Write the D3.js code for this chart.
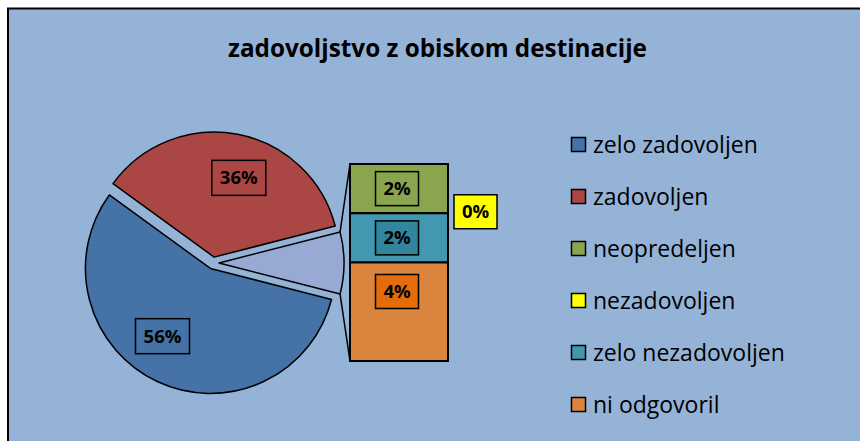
<!DOCTYPE html>
<html>
<head>
<meta charset="utf-8">
<script src="https://cdn.jsdelivr.net/npm/d3@7"></script>
<style>
  html, body { margin: 0; padding: 0; background: #ffffff; }
  svg { display: block; }
  text { font-family: "Open Sans", "Noto Sans", sans-serif; }
</style>
</head>
<body>
<svg id="chart" width="860" height="441"></svg>
<script>
// ---- data ----
const titleText = "zadovoljstvo z obiskom destinacije";
const categories = ["zelo zadovoljen", "zadovoljen", "neopredeljen", "nezadovoljen", "zelo nezadovoljen", "ni odgovoril"];
const values = [56, 36, 2, 0, 2, 4];
const pieCategories = ["zelo zadovoljen", "zadovoljen"];
const barCategories = ["neopredeljen", "nezadovoljen", "zelo nezadovoljen", "ni odgovoril"];
const colors = ["#4572A7", "#AA4643", "#89A54E", "#FFFF00", "#4198AF", "#DB843D"];
const labelFills = ["#4572A7", "#AA4643", "#89A54E", "#FFFF00", "#31859C", "#E46C0A"];
const otherColor = "#98A9D4";

const svg = d3.select("#chart");
const W = 860, H = 441;

// background panel
svg.append("rect").attr("x", 8).attr("y", 8.5).attr("width", W).attr("height", H)
  .attr("fill", "#95B3D7").attr("stroke", "#000").attr("stroke-width", 2);

// title
svg.append("text").attr("x", 437.5).attr("y", 57).attr("text-anchor", "middle")
  .attr("font-size", 24.3).attr("font-weight", "bold").attr("fill", "#000")
  .text(titleText);

// ---- pie ----
const valueOf = name => values[categories.indexOf(name)];
const otherTotal = d3.sum(barCategories, valueOf);
const pieItems = [{name: "other", value: otherTotal}]
  .concat(pieCategories.map(n => ({name: n, value: valueOf(n)})));

const total = d3.sum(pieItems, d => d.value);
const otherSpan = otherTotal / total * 2 * Math.PI;
const pie = d3.pie().sort(null).value(d => d.value)
  .startAngle(Math.PI / 2 - otherSpan / 2)
  .endAngle(Math.PI / 2 - otherSpan / 2 + 2 * Math.PI);
const arcsData = pie(pieItems);

const cx = 213, cy = 263, R = 125, explode = 6;
const arc = d3.arc().innerRadius(0).outerRadius(R);
const pct = v => Math.round(v) + "%";

const pieG = svg.append("g").attr("transform", `translate(${cx},${cy})`);

function offset(d) {
  const a = (d.startAngle + d.endAngle) / 2;
  return [explode * Math.sin(a), -explode * Math.cos(a)];
}

arcsData.forEach(d => {
  const [ox, oy] = offset(d);
  const idx = categories.indexOf(d.data.name);
  pieG.append("path")
    .attr("transform", `translate(${ox},${oy})`)
    .attr("d", arc(d))
    .attr("fill", idx >= 0 ? colors[idx] : otherColor)
    .attr("stroke", "#000").attr("stroke-width", 1.5).attr("stroke-linejoin", "round");
});

// ---- bar of pie ----
const barX0 = 350, barX1 = 448;
const yBar = d3.scaleLinear().domain([0, otherTotal]).range([164, 361]);
let acc = 0;
const barSegs = barCategories.map(n => {
  const v = valueOf(n);
  const seg = {name: n, value: v, y0: acc, y1: acc + v};
  acc += v;
  return seg;
});

// connector lines
const otherArc = arcsData[0];
const [oox, ooy] = offset(otherArc);
const pStart = [cx + oox + R * Math.sin(otherArc.startAngle), cy + ooy - R * Math.cos(otherArc.startAngle)];
const pEnd = [cx + oox + R * Math.sin(otherArc.endAngle), cy + ooy - R * Math.cos(otherArc.endAngle)];
svg.append("line").attr("x1", pStart[0]).attr("y1", pStart[1]).attr("x2", barX0).attr("y2", yBar(0))
  .attr("stroke", "#000").attr("stroke-width", 1.5);
svg.append("line").attr("x1", pEnd[0]).attr("y1", pEnd[1]).attr("x2", barX0).attr("y2", yBar(otherTotal))
  .attr("stroke", "#000").attr("stroke-width", 1.5);

barSegs.forEach(s => {
  const idx = categories.indexOf(s.name);
  svg.append("rect").attr("x", barX0).attr("y", yBar(s.y0))
    .attr("width", barX1 - barX0).attr("height", yBar(s.y1) - yBar(s.y0))
    .attr("fill", colors[idx]).attr("stroke", "#000").attr("stroke-width", 2);
});

// ---- data labels ----
function labelBox(x, y, w, h, fill, txt) {
  svg.append("rect").attr("x", x - w / 2).attr("y", y - h / 2).attr("width", w).attr("height", h)
    .attr("fill", fill).attr("stroke", "#000").attr("stroke-width", 1.5);
  svg.append("text").attr("x", x).attr("y", y + 6.5).attr("text-anchor", "middle")
    .attr("font-size", 18.5).attr("font-weight", "bold").attr("fill", "#000").text(txt);
}

arcsData.slice(1).forEach(d => {
  const [ox, oy] = offset(d);
  const a = d.startAngle + (d.endAngle - d.startAngle) * 0.55;
  const r = 83;
  const idx = categories.indexOf(d.data.name);
  labelBox(cx + ox + r * Math.sin(a), cy + oy - r * Math.cos(a), 54, 35, labelFills[idx], pct(d.data.value));
});

const barMid = (barX0 + barX1) / 2 - 2;
barSegs.forEach(s => {
  const idx = categories.indexOf(s.name);
  const top = yBar(s.y0), h = yBar(s.y1) - yBar(s.y0);
  if (h > 0) {
    labelBox(barMid, top + Math.min(h / 2, 29), 43, 34, labelFills[idx], pct(s.value));
  } else {
    labelBox(barX1 + 6 + 21.5, top - 1.5, 43, 34, labelFills[idx], pct(s.value));
  }
});

// ---- legend ----
const legend = svg.append("g");
categories.forEach((c, i) => {
  const y = 145 + i * 52;
  legend.append("rect").attr("x", 571.5).attr("y", y - 7.5).attr("width", 14).attr("height", 14)
    .attr("fill", colors[i]).attr("stroke", "#000").attr("stroke-width", 1.5);
  legend.append("text").attr("x", 593).attr("y", y + 8).attr("font-size", 23).attr("fill", "#000").text(c);
});
</script>
</body>
</html>
